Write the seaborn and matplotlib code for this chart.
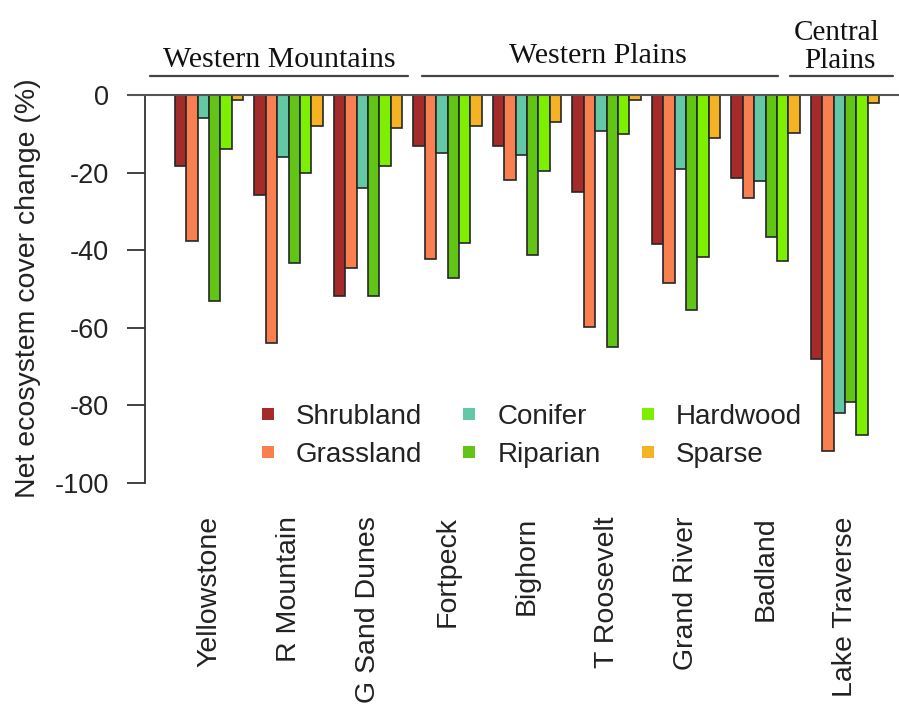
import matplotlib
matplotlib.use("Agg")
import matplotlib.pyplot as plt
from matplotlib.lines import Line2D
import seaborn as sns
import pandas as pd

sites = ["Yellowstone", "R Mountain", "G Sand Dunes", "Fortpeck", "Bighorn",
         "T Roosevelt", "Grand River", "Badland", "Lake Traverse"]
covers = ["Shrubland", "Grassland", "Conifer", "Riparian", "Hardwood", "Sparse"]

shrubland = [-18.3, -25.8, -51.8, -13.1, -13.1, -24.9, -38.5, -21.5, -68.1]
grassland = [-37.6, -63.9, -44.7, -42.3, -21.9, -59.7, -48.4, -26.6, -91.8]
conifer   = [-6.0, -15.9, -23.9, -14.9, -15.5, -9.3, -19.2, -22.3, -81.9]
riparian  = [-53.1, -43.2, -51.8, -47.1, -41.2, -64.9, -55.4, -36.5, -79.1]
hardwood  = [-14.0, -20.2, -18.3, -38.1, -19.5, -10.1, -41.7, -42.8, -87.7]
sparse    = [-1.3, -7.9, -8.4, -7.9, -6.9, -1.3, -11.2, -9.7, -2.1]

colors = ["#A52A2A", "#F77F50", "#63C8A6", "#62C414", "#7CF000", "#F5B323"]

values = {"Shrubland": shrubland, "Grassland": grassland, "Conifer": conifer,
          "Riparian": riparian, "Hardwood": hardwood, "Sparse": sparse}
df = pd.DataFrame([(s, c, values[c][i]) for c in covers for i, s in enumerate(sites)],
                  columns=["site", "cover", "change"])

sns.set_style("white")
plt.rcParams["font.family"] = ["Liberation Sans", "DejaVu Sans"]
plt.rcParams["axes.unicode_minus"] = False

W, H = 899, 708
fig = plt.figure(figsize=(W / 100, H / 100), dpi=100)
ax = fig.add_axes([145 / W, 1 - 483 / H, (W - 145) / W, (483 - 93) / H])

sns.barplot(data=df, x="site", y="change", hue="cover", order=sites, hue_order=covers,
            palette=colors, saturation=1, width=6 / 7, errorbar=None,
            edgecolor="#262626", linewidth=1.2, legend=False, ax=ax)

ax.set_xlim(-0.805, 8.679)
ax.set_ylim(-100, 0.5)

# zero reference line, running out past the y axis
ax.plot([-1.02, 8.679], [0, 0], color="#555555", lw=1.5, clip_on=False, zorder=5)

for side in ["top", "right", "bottom"]:
    ax.spines[side].set_visible(False)
ax.spines["left"].set_bounds(-100, 0)
ax.spines["left"].set_color("#333333")
ax.spines["left"].set_linewidth(1.3)

ax.set_yticks([0, -20, -40, -60, -80, -100])
ax.tick_params(axis="y", length=13, width=1.3, color="#333333", pad=13,
               labelsize=19.5, labelcolor="#222222", left=True)
ax.set_xticks(range(len(sites)))
ax.set_xticklabels(sites, rotation=90, fontsize=20.5, color="#222222")
ax.tick_params(axis="x", length=0, pad=24)
ax.set_xlabel("")
ax.set_ylabel("Net ecosystem cover change (%)", fontsize=20.5, color="#222222", labelpad=10)

handles = [Line2D([], [], marker="s", linestyle="none", markersize=9,
                  markeredgewidth=0, color=c) for c in colors]
ax.legend(handles, covers, ncol=3, frameon=False, fontsize=20,
          loc="upper left", bbox_to_anchor=(257 / W, 1 - 404 / H),
          bbox_transform=fig.transFigure, handlelength=0.8, handletextpad=0.6,
          columnspacing=1.3, labelspacing=0.42, borderpad=0, borderaxespad=0,
          labelcolor="#222222")

# region headers with underline bars
serif = ["Liberation Serif", "DejaVu Serif"]
headers = [("Western Mountains", 279, 67, 150, 408),
           ("Western Plains", 598, 63, 422, 778)]
for text, xc, yb, x0, x1 in headers:
    fig.text(xc / W, 1 - yb / H, text, family=serif, fontsize=21.5, ha="center",
             va="baseline", color="#111111")
    fig.add_artist(Line2D([x0 / W, x1 / W], [1 - 76 / H, 1 - 76 / H],
                          color="#444444", lw=1.6))
fig.text(837 / W, 1 - 40 / H, "Central", family=serif, fontsize=21, ha="center",
         va="baseline", color="#111111")
fig.text(840 / W, 1 - 68 / H, "Plains", family=serif, fontsize=21, ha="center",
         va="baseline", color="#111111")
fig.add_artist(Line2D([790 / W, 893 / W], [1 - 76 / H, 1 - 76 / H],
                      color="#444444", lw=1.6))

fig.savefig("out.png", dpi=100, facecolor="white")
